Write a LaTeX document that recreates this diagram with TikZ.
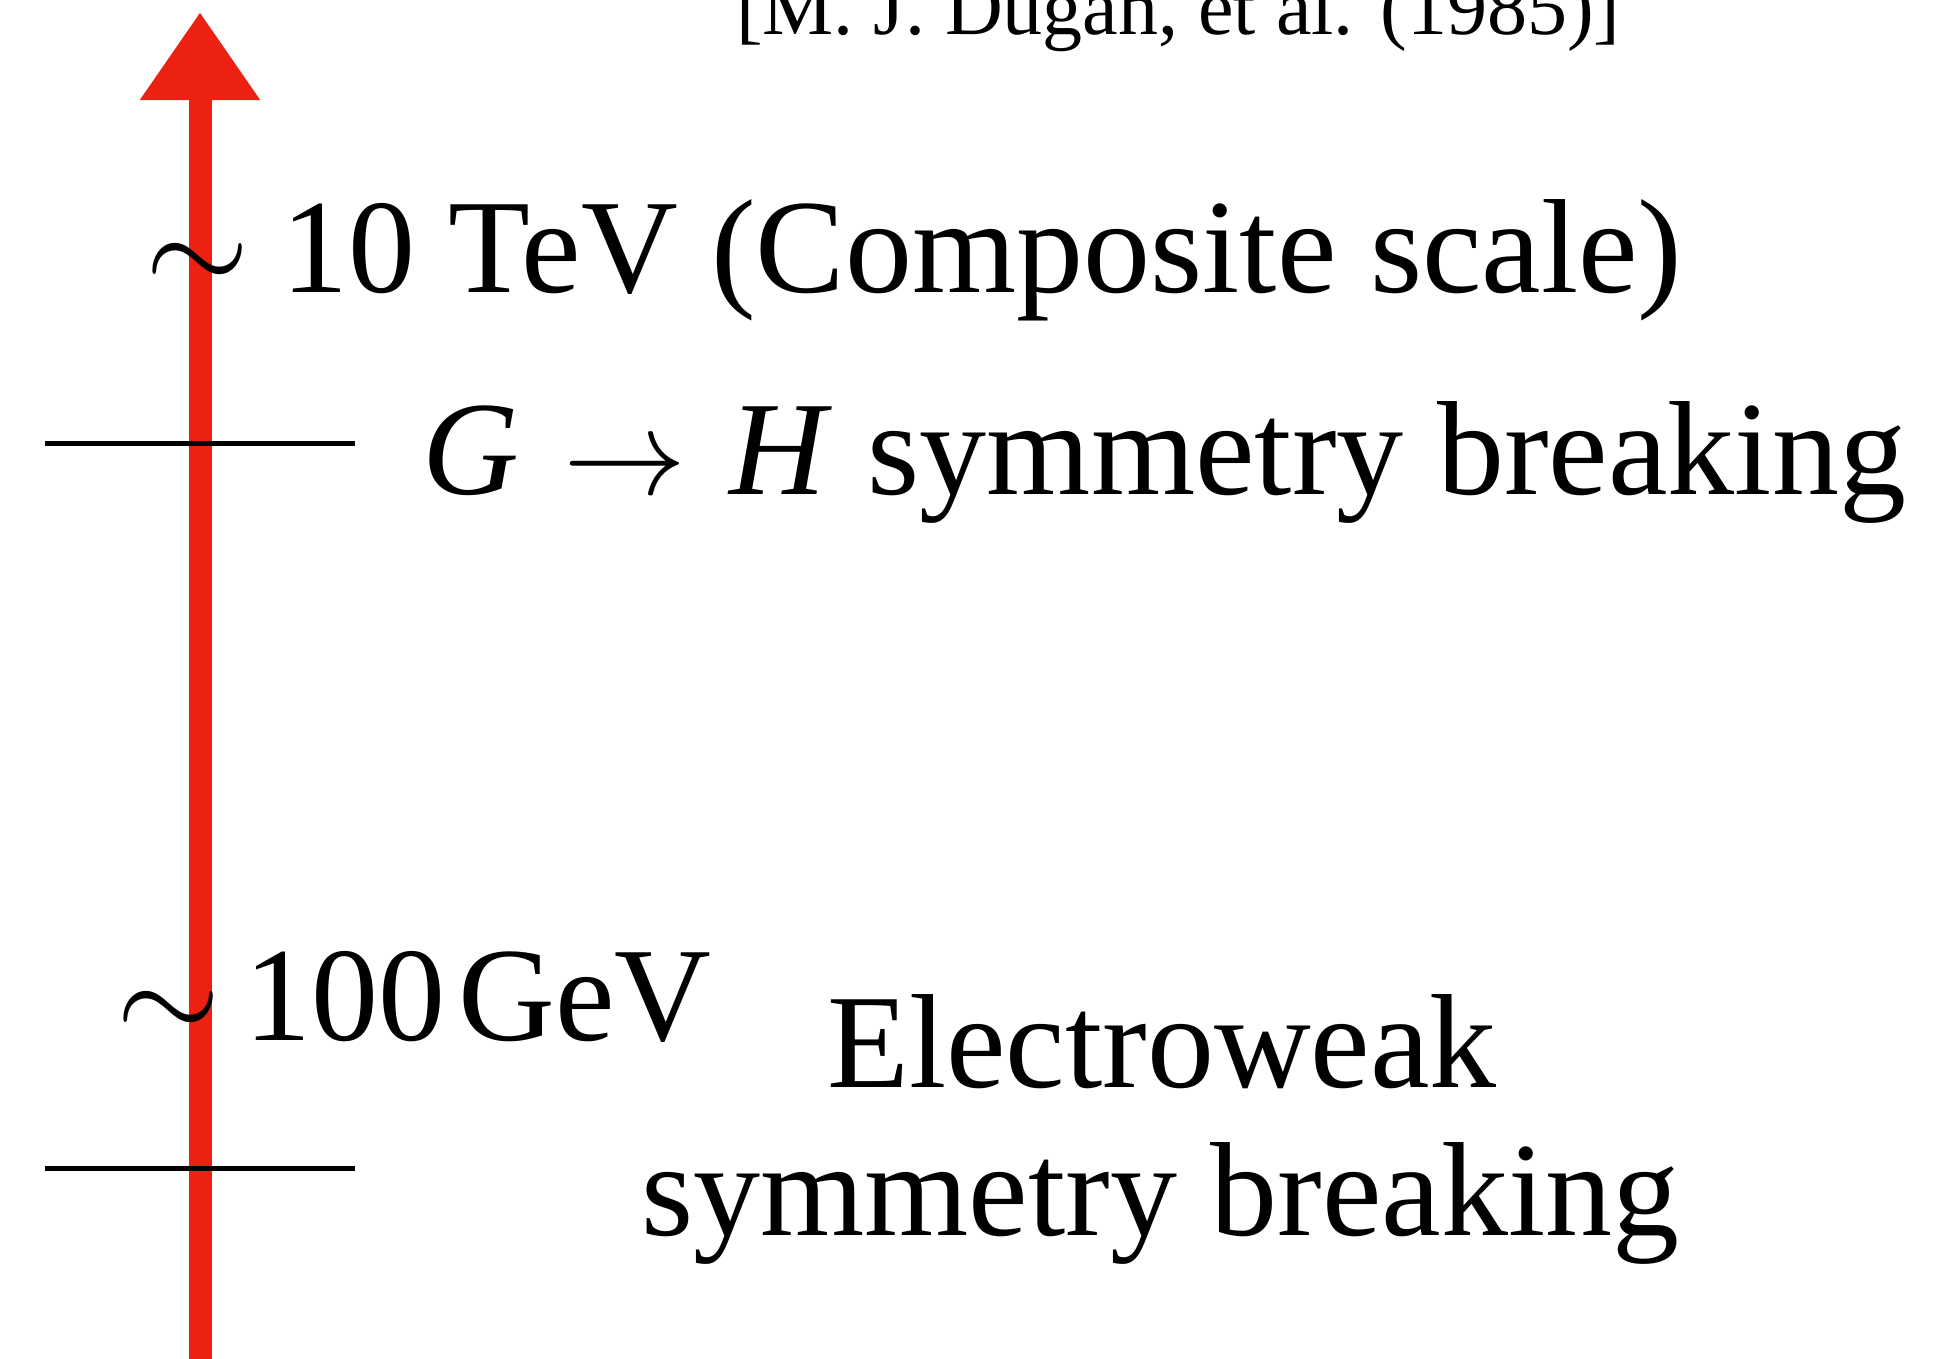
\documentclass[tikz,border=0pt]{standalone}
\usepackage{fontspec}
\setmainfont{Liberation Serif}
\usetikzlibrary{arrows.meta}
\definecolor{chalkred}{RGB}{237,33,18}
\newcommand{\mysim}{\scalebox{13.4}{\fontsize{10}{12}\selectfont$\sim$}}
\newcommand{\myto}{\scalebox{12.3}{\fontsize{10}{12}\selectfont$\rightarrow$}}
\begin{document}
\begin{tikzpicture}[x=1pt,y=-1pt,
  big/.style={inner sep=0pt, anchor=base west, font=\fontsize{134}{160}\selectfont},
  small/.style={inner sep=0pt, anchor=base west, font=\fontsize{80}{96}\selectfont},
  scaleline/.style={line width=5pt, black},
  energyarrow/.style={chalkred, line width=23pt, -{Triangle[width=114pt,length=88pt]}}]
\useasboundingbox (0,0) rectangle (1946,1358);
\clip (0,0) rectangle (1946,1358);
% arrow
\coordinate (abot) at (200,1370);
\coordinate (atop) at (200,12);
\draw[energyarrow] (abot) -- (atop);
% scale lines
\coordinate (l1a) at (45,443);
\coordinate (l1b) at (355,443);
\coordinate (l2a) at (45,1168);
\coordinate (l2b) at (355,1168);
\draw[scaleline] (l1a) -- (l1b);
\draw[scaleline] (l2a) -- (l2b);
% texts
\node[small] (ref) at (736,34) {[M. J. Dugan, et al. (1985)]};
\node[big] (comp) at (145,292) {\mysim\hspace{32pt}10 TeV (Composite scale)};
\node[big] (gh) at (422,494) {\textit{G}\hspace{45pt}\myto\hspace{43pt}\textit{H}\hspace{35pt}symmetry breaking};
\node[big] (ew) at (116,1040) {\mysim\hspace{24pt}100\hspace{13pt}GeV};
\node[big] (ewa) at (827,1087) {Electroweak};
\node[big] (ewb) at (641,1235) {symmetry breaking};
\end{tikzpicture}
\end{document}
